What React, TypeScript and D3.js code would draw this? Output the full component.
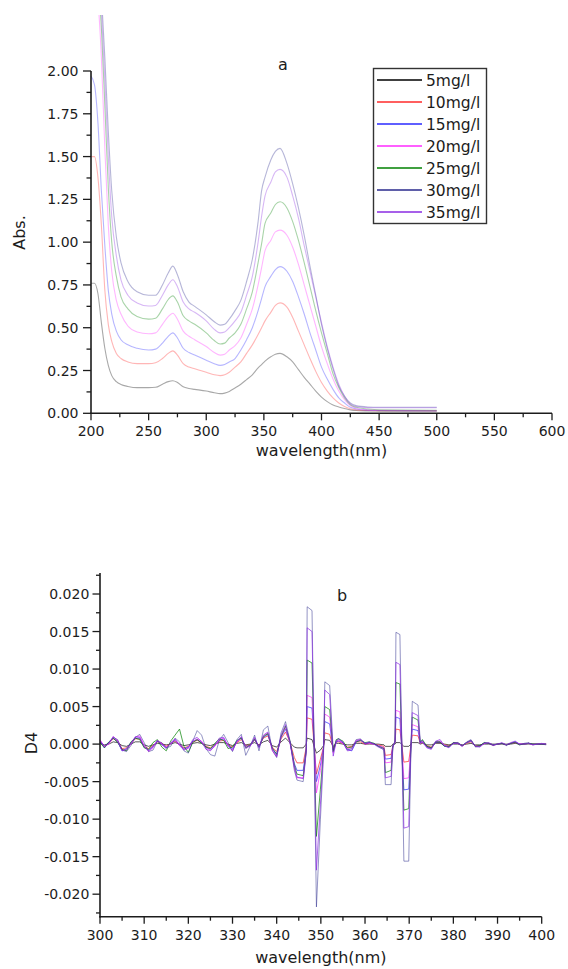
import React from 'react';
import * as d3 from 'd3';

// ---------- shared series info ----------
const SERIES = ['5mg/l', '10mg/l', '15mg/l', '20mg/l', '25mg/l', '30mg/l', '35mg/l'];
const COLORS = ['#000000', '#ff2a2a', '#2a2aff', '#ff2aff', '#008000', '#2a2a8c', '#8a2be2'];

// ---------- chart a : absorbance spectra ----------
const WL_A = [200, 203, 206, 209, 212, 215, 218, 222, 226, 232, 240, 250, 256, 262, 267, 271, 275, 280, 285, 290,
  300, 307, 312, 316, 320, 325, 330, 335, 340, 345, 348, 351, 356, 360, 364, 370, 375, 380, 385, 390,
  395, 400, 405, 410, 415, 420, 425, 430, 440, 450, 500];

const ABS_5 = [.76, .76, .70, .53, .38, .28, .22, .185, .168, .157, .15, .15, .152, .17, .185, .19, .18, .155, .145, .14,
  .13, .12, .115, .118, .128, .148, .17, .197, .225, .265, .285, .305, .33, .345, .35, .33, .30, .255, .21, .17,
  .13, .095, .068, .048, .037, .028, .02, .016, .014, .013, .012];
const ABS_10 = [1.50, 1.50, 1.38, 1.10, .72, .52, .42, .35, .32, .30, .29, .29, .295, .32, .35, .365, .34, .29, .27, .26,
  .24, .225, .22, .225, .24, .27, .30, .35, .40, .46, .50, .54, .59, .63, .645, .62, .56, .48, .40, .32,
  .245, .18, .13, .09, .06, .04, .027, .02, .016, .015, .015];
const ABS_15 = [1.97, 1.92, 1.70, 1.30, .98, .72, .58, .48, .43, .40, .38, .37, .375, .41, .45, .47, .44, .38, .355, .34,
  .31, .29, .28, .285, .30, .32, .37, .43, .50, .60, .67, .74, .80, .84, .857, .83, .77, .68, .58, .47,
  .37, .27, .20, .14, .09, .06, .035, .025, .018, .016, .015];
const ABS_20 = [2.70, 2.60, 2.42, 2.08, 1.55, 1.10, .83, .66, .58, .51, .475, .465, .47, .52, .565, .585, .55, .48, .45, .43,
  .39, .355, .34, .345, .37, .395, .44, .52, .61, .75, .85, .95, 1.01, 1.06, 1.07, 1.04, .97, .87, .75, .63,
  .51, .39, .29, .20, .13, .08, .045, .03, .02, .017, .015];
const ABS_25 = [2.80, 2.70, 2.52, 2.25, 1.80, 1.32, 1.00, .80, .68, .61, .565, .55, .555, .61, .665, .686, .65, .57, .54, .52,
  .47, .425, .405, .41, .44, .47, .52, .61, .71, .88, .99, 1.11, 1.17, 1.22, 1.236, 1.20, 1.12, 1.01, .88, .74,
  .60, .47, .35, .23, .15, .09, .05, .035, .025, .02, .018];
const ABS_30 = [3.00, 2.90, 2.72, 2.45, 2.08, 1.65, 1.30, 1.03, .88, .77, .71, .69, .69, .75, .82, .86, .81, .71, .65, .625,
  .575, .535, .515, .52, .55, .60, .66, .77, .90, 1.12, 1.30, 1.38, 1.48, 1.53, 1.548, 1.46, 1.34, 1.20, 1.04, .86,
  .69, .52, .38, .26, .16, .10, .06, .045, .037, .035, .035];
const ABS_35 = [2.90, 2.80, 2.62, 2.35, 1.95, 1.50, 1.15, .92, .78, .69, .645, .627, .63, .69, .75, .78, .74, .65, .61, .59,
  .54, .49, .47, .475, .50, .54, .59, .69, .80, 1.00, 1.15, 1.27, 1.35, 1.41, 1.425, 1.38, 1.27, 1.14, .98, .83,
  .68, .53, .39, .27, .17, .10, .055, .04, .033, .032, .032];
const ABS = [ABS_5, ABS_10, ABS_15, ABS_20, ABS_25, ABS_30, ABS_35];

const A_XTICKS = [200, 250, 300, 350, 400, 450, 500, 550, 600];
const A_XMINOR = [225, 275, 325, 375, 425, 475, 525, 575];
const A_YTICKS = [0, 0.25, 0.5, 0.75, 1.0, 1.25, 1.5, 1.75, 2.0];
const A_YMINOR = [0.125, 0.375, 0.625, 0.875, 1.125, 1.375, 1.625, 1.875];

// ---------- chart b : fourth derivative (values in units of 1e-3) ----------
const D4_UNIT = 1e-3;
const WL_B = [
  ...d3.range(300, 341),
  341, 342, 343, 344, 344.6, 346.0, 346.7, 346.9, 348.0, 349.0, 349.9, 350.6, 350.9, 352.0, 352.8, 353.5,
  ...d3.range(354, 364),
  364.3, 364.6, 365.9, 366.3, 366.8, 367.0, 367.9, 368.8, 369.9, 370.4, 370.7, 372.0, 372.5,
  ...d3.range(373, 402),
];

const D4_5 = [
  0.1, -0.1, 0.0, 0.3, 0.2, -0.2, -0.3, 0.0, 0.3, 0.3, -0.1, -0.3, -0.1, 0.1, 0.0, -0.1, 0.0, 0.2, 0.0, -0.2,
  -0.1, 0.1, 0.2, 0.1, -0.1, -0.2, 0.0, 0.2, 0.2, 0.0, -0.2, 0.1, 0.2, -0.1, 0.0, 0.2, -0.1, 0.3, 0.5, -0.2, -0.4,
  0.3, 0.8, 0.2, -0.4, -0.5, -0.5, 0.0, 0.8, 0.6, -1.2, -0.8, -0.2, 0.6, 0.5, -0.3, 0.1,
  0.1, 0.0, -0.1, -0.1, 0.1, 0.1, 0.0, 0.0, 0.0, 0.0,
  -0.1, -0.3, -0.3, 0.0, 0.0, 0.2, 0.2, -0.3, -0.3, 0.0, 0.2, 0.2, 0.0,
  0.1, -0.1, -0.1, 0.1, 0.1, 0.0, -0.1, 0.0, 0.0, -0.1, 0.0, 0.1, -0.1, -0.1, 0.0, 0.0, 0.0, 0.0, 0.0, 0.0,
  0.0, 0.1, 0.0, 0.0, 0.0, 0.0, 0.0, 0.0, 0.0,
];
const D4_10 = [
  0.2, -0.3, 0.1, 0.7, 0.4, -0.6, -0.5, 0.1, 0.7, 0.7, -0.3, -0.6, -0.2, 0.3, 0.1, -0.3, 0.1, 0.4, -0.1, -0.5,
  -0.3, 0.3, 0.5, 0.2, -0.3, -0.5, -0.1, 0.4, 0.5, -0.1, -0.4, 0.2, 0.6, -0.2, -0.1, 0.5, -0.2, 0.8, 1.1, -0.4, -1.0,
  0.7, 1.6, 0.3, -1.8, -2.5, -2.5, -0.4, 3.5, 3.3, -4.0, -2.0, -0.4, 1.5, 1.3, -0.6, 0.3,
  0.3, 0.1, -0.4, -0.3, 0.3, 0.3, 0.0, 0.1, 0.0, -0.1,
  -0.3, -1.5, -1.4, -0.2, 0.2, 2.0, 1.9, -2.4, -2.3, -0.1, 1.2, 1.1, 0.1,
  0.2, -0.2, -0.4, 0.2, 0.2, -0.1, -0.2, 0.1, 0.1, -0.2, 0.1, 0.3, -0.2, -0.2, 0.1, 0.1, -0.1, 0.0, 0.1, -0.1,
  0.1, 0.2, 0.0, 0.0, 0.1, 0.0, 0.0, 0.0, 0.0,
];
const D4_15 = [
  0.4, -0.5, 0.2, 0.8, 0.3, -0.9, -0.6, 0.2, 0.8, 0.8, -0.4, -0.8, -0.3, 0.4, 0.0, -0.5, 0.1, 0.5, -0.1, -0.6,
  -0.4, 0.4, 0.6, 0.2, -0.4, -0.7, -0.1, 0.5, 0.7, -0.2, -0.6, 0.3, 0.8, -0.3, -0.2, 0.6, -0.3, 0.9, 1.3, -0.6, -1.3,
  0.9, 2.0, 0.3, -2.6, -3.5, -3.5, -0.6, 5.0, 4.8, -5.0, -2.8, -0.5, 3.0, 2.7, -1.0, 0.3,
  0.4, 0.2, -0.7, -0.9, 0.3, 0.5, 0.1, 0.2, 0.0, -0.2,
  -0.5, -2.0, -1.9, -0.2, 0.2, 3.6, 3.4, -6.1, -6.0, -0.2, 2.0, 1.8, 0.1,
  0.3, -0.3, -0.5, 0.2, 0.3, -0.2, -0.3, 0.1, 0.1, -0.2, 0.2, 0.4, -0.3, -0.2, 0.1, 0.1, -0.1, 0.0, 0.1, -0.1,
  0.1, 0.3, 0.0, 0.0, 0.1, 0.0, 0.0, 0.0, 0.0,
];
const D4_20 = [
  0.6, -0.3, 0.0, 1.0, 0.5, -0.8, -0.8, 0.0, 0.9, 1.1, -0.2, -1.0, -0.5, 0.5, 0.1, -0.4, 0.0, 0.6, 0.0, -0.7,
  -0.6, 0.3, 0.7, 0.4, -0.5, -0.8, -0.3, 0.6, 0.8, -0.2, -0.8, 0.3, 0.9, -0.4, -0.3, 0.8, -0.4, 1.1, 1.5, -0.9, -1.7,
  1.0, 2.2, 0.2, -3.2, -4.5, -4.5, -0.8, 6.5, 6.2, -6.5, -3.5, -0.6, 4.0, 3.6, -1.2, 0.4,
  0.5, 0.1, -0.6, -0.5, 0.5, 0.6, 0.0, 0.1, 0.0, -0.2,
  -0.5, -2.5, -2.4, -0.3, 0.3, 4.5, 4.3, -4.6, -4.5, -0.2, 2.6, 2.3, 0.1,
  0.4, -0.4, -0.6, 0.3, 0.4, -0.2, -0.4, 0.2, 0.1, -0.3, 0.2, 0.5, -0.3, -0.3, 0.1, 0.1, -0.2, 0.0, 0.1, -0.1,
  0.1, 0.2, 0.0, 0.0, 0.1, -0.1, 0.0, 0.0, 0.0,
];
const D4_25 = [
  0.2, -0.5, 0.3, 0.8, 0.2, -0.7, -0.9, 0.3, 0.8, 0.6, -0.5, -0.7, 0.2, 0.6, -0.4, -0.9, 0.4, 1.2, 2.0, -0.3,
  -1.1, 0.2, 0.6, 0.1, -0.4, -0.6, 0.1, 0.7, 0.5, -0.6, -0.4, 0.5, 0.8, -0.5, -0.1, 0.7, -0.4, 1.0, 1.4, -0.5, -1.4,
  1.0, 2.4, 0.4, -2.8, -4.0, -4.2, -0.8, 11.2, 10.8, -12.3, -6.0, -0.8, 5.0, 4.6, -1.0, 0.6,
  0.7, 0.4, -0.5, -0.4, 0.3, 0.5, 0.2, 0.3, 0.1, -0.3,
  -0.6, -3.8, -3.5, -0.3, 0.3, 8.2, 8.0, -8.8, -8.6, -0.3, 3.6, 3.2, 0.2,
  0.6, -0.3, -0.5, 0.3, 0.3, -0.3, -0.3, 0.2, 0.2, -0.2, 0.2, 0.5, -0.3, -0.2, 0.2, 0.1, -0.1, 0.0, 0.1, -0.1,
  0.1, 0.2, -0.1, 0.0, 0.1, 0.0, 0.0, 0.0, 0.0,
];
const D4_30 = [
  0.3, -0.2, 0.2, 0.9, 0.6, -0.8, -1.0, -0.2, 0.9, 1.3, 0.2, -1.0, -0.8, 0.4, 0.2, -0.5, -0.3, 0.8, 0.3, -0.9,
  -1.2, 0.4, 1.8, 1.2, -0.6, -1.4, -1.6, 0.5, 1.3, 0.2, -1.0, 0.6, 1.3, -1.5, -0.3, 1.2, -0.9, 1.9, 2.4, -0.8, -1.8,
  1.5, 3.0, 0.5, -3.5, -4.8, -5.0, -1.0, 18.3, 17.8, -21.7, -10.0, -1.5, 8.3, 7.8, -0.8, 0.5,
  0.8, 0.2, -0.8, -0.6, 0.6, 0.7, 0.0, 0.2, 0.1, -0.3,
  -0.8, -5.4, -5.4, -0.5, 0.5, 14.9, 14.6, -15.6, -15.6, -0.5, 5.7, 5.2, 0.3,
  0.5, -0.4, -0.6, 0.3, 0.2, -0.3, -0.4, 0.2, 0.1, -0.3, 0.3, 0.6, -0.4, -0.3, 0.2, 0.1, -0.2, 0.0, 0.1, -0.2,
  0.1, 0.3, -0.1, 0.1, 0.2, -0.1, 0.0, 0.0, -0.1,
];
const D4_35 = [
  0.5, -0.4, 0.1, 1.0, 0.4, -0.9, -0.7, 0.1, 1.0, 0.9, -0.3, -0.9, -0.4, 0.5, -0.1, -0.6, 0.2, 0.7, -0.2, -0.8,
  -0.5, 0.6, 0.9, 0.3, -0.7, -0.9, -0.2, 0.8, 0.9, -0.3, -0.9, 0.4, 1.0, -0.6, -0.2, 0.9, -0.5, 1.2, 1.6, -0.6, -1.6,
  1.2, 2.6, 0.3, -3.0, -4.4, -4.6, -1.0, 15.5, 15.0, -16.8, -8.0, -1.0, 7.2, 6.6, -1.6, 0.4,
  0.6, 0.3, -0.9, -0.8, 0.4, 0.6, 0.1, 0.3, 0.0, -0.4,
  -0.7, -4.5, -4.3, -0.4, 0.4, 10.9, 10.6, -11.2, -11.0, -0.4, 4.2, 3.8, 0.2,
  0.3, -0.5, -0.7, 0.4, 0.6, -0.2, -0.5, 0.1, 0.2, -0.2, 0.2, 0.5, -0.3, -0.4, 0.1, 0.2, -0.1, 0.0, 0.2, -0.1,
  0.2, 0.4, 0.0, 0.0, 0.1, -0.1, 0.0, 0.1, 0.0,
];
const D4 = [D4_5, D4_10, D4_15, D4_20, D4_25, D4_30, D4_35];

const B_XTICKS = [300, 310, 320, 330, 340, 350, 360, 370, 380, 390, 400];
const B_XMINOR = [305, 315, 325, 335, 345, 355, 365, 375, 385, 395];
const B_YTICKS = [-0.02, -0.015, -0.01, -0.005, 0, 0.005, 0.01, 0.015, 0.02];
const B_YMINOR = [-0.0225, -0.0175, -0.0125, -0.0075, -0.0025, 0.0025, 0.0075, 0.0125, 0.0175, 0.0225];

const FONT = '"DejaVu Sans", Verdana, sans-serif';
const INK = '#1c1c1c';

export default function App() {
  const xA = d3.scaleLinear().domain([200, 600]).range([91, 552]);
  const yA = d3.scaleLinear().domain([0, 2]).range([413.3, 71]);
  const xB = d3.scaleLinear().domain([300, 400]).range([100, 541.7]);
  const yB = d3.scaleLinear().domain([-0.023, 0.0228]).range([916.7, 573]);

  const lineA = d3.line<number>()
    .x((_, i) => xA(WL_A[i]))
    .y((d) => yA(d))
    .curve(d3.curveMonotoneX);
  const lineB = d3.line<number>()
    .x((_, i) => xB(WL_B[i]))
    .y((d) => yB(d * D4_UNIT));

  const ax = { stroke: INK, strokeWidth: 1.6 } as const;
  const tk = { stroke: INK, strokeWidth: 1.3 } as const;

  const yA0 = yA(0);
  const xA0 = xA(200);
  const yB0 = yB.range()[0];
  const xB0 = xB(300);

  const legendRows = SERIES.map((s, i) => ({ s, c: COLORS[i], y: 80 + i * 22 }));

  return (
    <svg width={568} height={969} style={{ position: 'absolute', left: 0, top: 0, background: '#fff' }}
      fontFamily={FONT}>
      <rect x={0} y={0} width={568} height={969} fill="#fff" />
      <defs>
        <clipPath id="clipA">
          <rect x={0} y={15} width={568} height={410} />
        </clipPath>
      </defs>

      {/* ----- chart a ----- */}
      <g clipPath="url(#clipA)">
        {ABS.map((vals, i) => (
          <path key={i} d={lineA(vals) || ''} fill="none" stroke={COLORS[i]} strokeOpacity={0.34} strokeWidth={1.1} />
        ))}
      </g>
      <line x1={xA0} x2={xA0} y1={yA(2)} y2={yA0 + 0.8} {...ax} />
      <line x1={xA0 - 0.8} x2={xA(600)} y1={yA0} y2={yA0} {...ax} />
      {A_YTICKS.map((t) => (
        <g key={'ay' + t}>
          <line x1={xA0 - 8} x2={xA0} y1={yA(t)} y2={yA(t)} {...tk} />
          <text x={xA0 - 12.5} y={yA(t)} dy="0.36em" textAnchor="end" fontSize={14} fill={INK}>{t.toFixed(2)}</text>
        </g>
      ))}
      {A_YMINOR.map((t) => (
        <line key={'aym' + t} x1={xA0 - 4.5} x2={xA0} y1={yA(t)} y2={yA(t)} {...tk} />
      ))}
      {A_XTICKS.map((t) => (
        <g key={'ax' + t}>
          <line x1={xA(t)} x2={xA(t)} y1={yA0} y2={yA0 + 7} {...tk} />
          <text x={xA(t)} y={yA0 + 23} textAnchor="middle" fontSize={14} fill={INK}>{t}</text>
        </g>
      ))}
      {A_XMINOR.map((t) => (
        <line key={'axm' + t} x1={xA(t)} x2={xA(t)} y1={yA0} y2={yA0 + 4} {...tk} />
      ))}
      <text x={(xA(200) + xA(600)) / 2} y={456} textAnchor="middle" fontSize={16} fill={INK}>wavelength(nm)</text>
      <text transform="translate(25,232.5) rotate(-90)" textAnchor="middle" fontSize={16} fill={INK}>Abs.</text>
      <text x={283} y={70} textAnchor="middle" fontSize={16} fill={INK}>a</text>

      {/* legend */}
      <rect x={373.5} y={68.5} width={113} height={155} fill="#fff" stroke="#333" strokeWidth={1.4} />
      {legendRows.map((r) => (
        <g key={r.s}>
          <line x1={377} x2={422} y1={r.y} y2={r.y} stroke={r.c} strokeWidth={1.3} />
          <text x={426} y={r.y + 5.5} fontSize={15.5} fill={INK}>{r.s}</text>
        </g>
      ))}

      {/* ----- chart b ----- */}
      <g>
        {D4.map((vals, i) => (
          <path key={i} d={lineB(vals) || ''} fill="none" stroke={COLORS[i]}
            strokeOpacity={i === 5 ? 0.5 : i === 0 ? 0.65 : 0.7} strokeWidth={1} />
        ))}
      </g>
      <line x1={xB0} x2={xB0} y1={yB.range()[1]} y2={yB0 + 0.8} {...ax} />
      <line x1={xB0 - 0.8} x2={xB(400)} y1={yB0} y2={yB0} {...ax} />
      {B_YTICKS.map((t) => (
        <g key={'by' + t}>
          <line x1={xB0 - 7.5} x2={xB0} y1={yB(t)} y2={yB(t)} {...tk} />
          <text x={xB0 - 10.7} y={yB(t)} dy="0.36em" textAnchor="end" fontSize={14} fill={INK}>{t.toFixed(3)}</text>
        </g>
      ))}
      {B_YMINOR.map((t) => (
        <line key={'bym' + t} x1={xB0 - 4} x2={xB0} y1={yB(t)} y2={yB(t)} {...tk} />
      ))}
      {B_XTICKS.map((t) => (
        <g key={'bx' + t}>
          <line x1={xB(t)} x2={xB(t)} y1={yB0} y2={yB0 + 7} {...tk} />
          <text x={xB(t)} y={yB0 + 23.3} textAnchor="middle" fontSize={14} fill={INK}>{t}</text>
        </g>
      ))}
      {B_XMINOR.map((t) => (
        <line key={'bxm' + t} x1={xB(t)} x2={xB(t)} y1={yB0} y2={yB0 + 4} {...tk} />
      ))}
      <text x={(xB(300) + xB(400)) / 2} y={963} textAnchor="middle" fontSize={16} fill={INK}>wavelength(nm)</text>
      <text transform="translate(37,743) rotate(-90)" textAnchor="middle" fontSize={16} fill={INK}>D4</text>
      <text x={342} y={601} textAnchor="middle" fontSize={16} fill={INK}>b</text>
    </svg>
  );
}
